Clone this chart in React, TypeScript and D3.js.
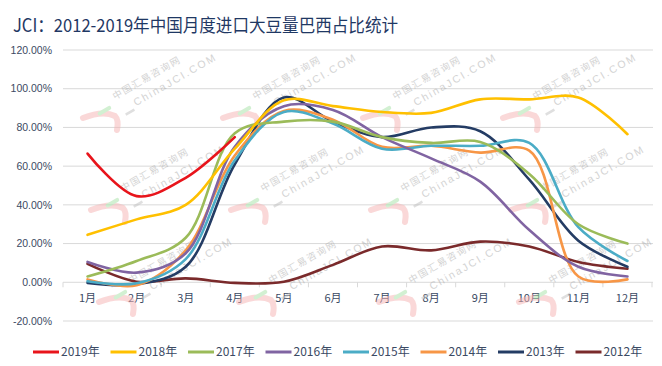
import React from 'react'
import * as d3 from 'd3'

// monthly share of Brazil in China's soybean imports, %
const months = ['1月', '2月', '3月', '4月', '5月', '6月', '7月', '8月', '9月', '10月', '11月', '12月']
const years = ['2019年', '2018年', '2017年', '2016年', '2015年', '2014年', '2013年', '2012年']
const colors = ['#E8141B', '#FFC000', '#9BBB59', '#8064A2', '#4BACC6', '#F79646', '#243C64', '#7A2A2B']

const s2019 = [66.5, 44.5, 54, 75]
const s2018 = [24.5, 32.5, 40, 69, 94, 91, 88, 87.5, 94.5, 94.5, 95.5, 76.5]
const s2017 = [3, 11, 23, 77, 83, 83, 75, 72, 72.5, 56, 30, 20]
const s2016 = [10.5, 5, 15, 70, 91, 89, 75, 64, 52, 27, 8, 3]
const s2015 = [0.5, -0.5, 12, 63, 88, 82, 69, 70.5, 70.5, 72, 28.5, 11]
const s2014 = [1.5, -1.5, 16.5, 65.5, 88.5, 84, 70, 70.5, 67, 68, 3, 1.5]
const s2013 = [-0.3, -1, 8, 61, 95.5, 83, 75, 80, 78, 53, 21.5, 8]
const s2012 = [9.5, 0.3, 2, -0.3, 0.3, 9, 18.5, 16.5, 21, 18.5, 10.5, 7]
const yTicks = [-20, 0, 20, 40, 60, 80, 100, 120]

const series = [s2019, s2018, s2017, s2016, s2015, s2014, s2013, s2012]

const W = 662
const H = 366
const axisColor = '#3B4A63'
const cjk = '"Noto Sans CJK SC", "Noto Sans", sans-serif'

function Watermark({x, y}: {x: number, y: number}) {
  return (
    <g transform={`translate(${x},${y})`} opacity={0.5}>
      <path d="M-32,18 Q-12,10 0,16 Q4,20 2,30" fill="none" stroke="#F6B3B3" strokeWidth={6} strokeLinecap="round" />
      <g transform="rotate(-30)">
        <line x1={-20} y1={4} x2={-9} y2={4} stroke="#A6E3A6" strokeWidth={4} strokeLinecap="round" />
        <line x1={2} y1={18} x2={12} y2={18} stroke="#C0C0C0" strokeWidth={2.5} />
        <text x={0} y={0} fontSize={9.5} fill="#A8A8A8" fontFamily={cjk} letterSpacing={1.5}>中国汇易咨询网</text>
        <text x={15} y={16} fontSize={10.5} fill="#A8A8A8" fontFamily="Liberation Sans, sans-serif" letterSpacing={2}>ChinaJCI.COM</text>
      </g>
    </g>
  )
}

export default function App() {
  const x = d3.scaleBand().domain(months).range([63, 652])
  const y = d3.scaleLinear().domain([-20, 120]).range([321, 50])
  const cx = (m: string) => (x(m) as number) + x.bandwidth() / 2

  const line = d3.line<number>()
    .x((d, i) => cx(months[i]))
    .y(d => y(d))
    .curve(d3.curveCatmullRom.alpha(0.5))

  const marks: {x: number, y: number}[] = []
  for (let j = 0; j < 3; j++) {
    for (let i = 0; i < 4; i++) {
      marks.push({x: 115 + 140 * i + 8 * j, y: 100 + 92 * j})
    }
  }

  return (
    <svg width={W} height={H} style={{position: 'absolute', left: 0, top: 0, background: '#fff'}}>
      <text x={13} y={32} fontSize={18} fill="#1F3864" fontFamily={cjk} textLength={385} lengthAdjust="spacingAndGlyphs">
        JCI：2012-2019年中国月度进口大豆量巴西占比统计
      </text>

      {yTicks.map(t => (
        <g key={t}>
          <line x1={63} x2={653} y1={y(t)} y2={y(t)} stroke="#D9D9D9" strokeWidth={1} />
          <text x={52} y={y(t)} dy="0.35em" textAnchor="end" fontSize={10.5} fill={axisColor} fontFamily="Liberation Sans, sans-serif">
            {t.toFixed(2) + '%'}
          </text>
        </g>
      ))}

      {months.map((m, i) => (
        <line key={'tk' + i} x1={x(m)} x2={x(m)} y1={y(0)} y2={y(0) + 5} stroke="#D9D9D9" />
      ))}
      <line x1={652} x2={652} y1={y(0)} y2={y(0) + 5} stroke="#D9D9D9" />

      {months.map(m => (
        <text key={m} x={cx(m)} y={298} dy="0.35em" textAnchor="middle" fontSize={11} fill={axisColor} fontFamily={cjk}>
          {m}
        </text>
      ))}

      {marks.map((p, i) => <Watermark key={'wm' + i} x={p.x} y={p.y} />)}

      {series.slice().reverse().map((s, k) => {
        const idx = series.length - 1 - k
        return (
          <path key={years[idx]} d={line(s) as string} fill="none" stroke={colors[idx]} strokeWidth={2.6} strokeLinecap="round" />
        )
      })}

      {years.map((yr, i) => {
        const lx = 33 + i * 77.5
        return (
          <g key={'lg' + yr}>
            <line x1={lx} x2={lx + 26} y1={352} y2={352} stroke={colors[i]} strokeWidth={3} />
            <text x={lx + 28} y={352} dy="0.35em" fontSize={12} fill={axisColor} fontFamily={cjk}>{yr}</text>
          </g>
        )
      })}
    </svg>
  )
}
